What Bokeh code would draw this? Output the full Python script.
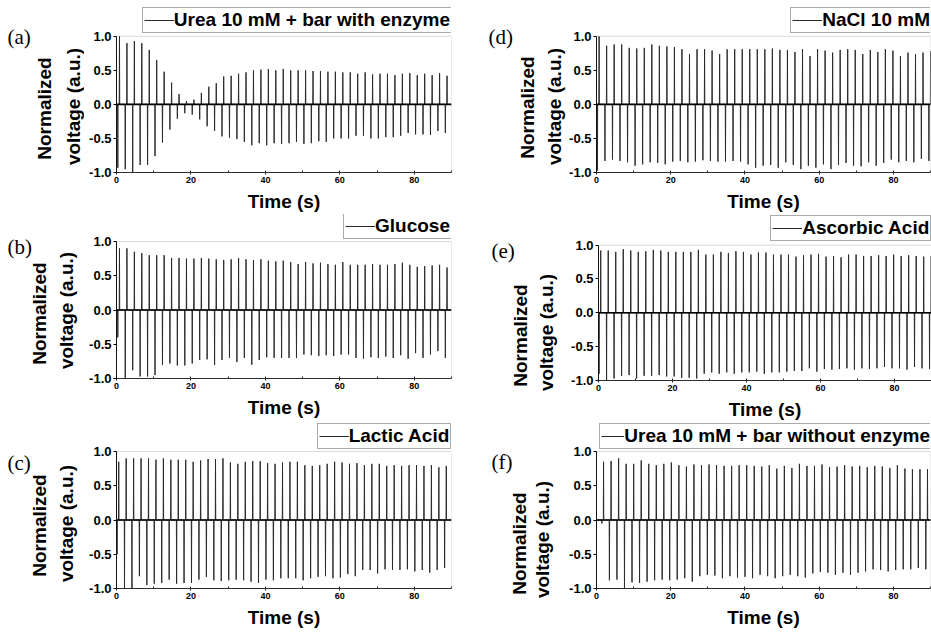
import math
from bokeh.plotting import figure
from bokeh.layouts import column, row
from bokeh.models import (Range1d, FixedTicker, PrintfTickFormatter, Span, Label,
                          Legend, LegendItem, ColumnDataSource, BoxAnnotation)
from bokeh.core.properties import value
from bokeh.embed import file_html
from bokeh.resources import INLINE

# ---------------- data ----------------
time_limits = [0, 90]
volt_limits = [-1.0, 1.0]
x_major_ticks = [0, 20, 40, 60, 80]
x_minor_ticks = [10, 30, 50, 70, 90]
y_major_ticks = [-1.0, -0.5, 0.0, 0.5, 1.0]

panel_letters = ["a", "b", "c", "d", "e", "f"]
panel_names = ["Urea 10 mM + bar with enzyme", "Glucose", "Lactic Acid",
               "NaCl 10 mM", "Ascorbic Acid", "Urea 10 mM + bar without enzyme"]
x_title = "Time (s)"
y_title_lines = ["Normalized", "voltage (a.u.)"]

# time of first positive spike (s) and spike period (s)
first_spike = [0.8, 0.8, 0.6, 0.7, 0.6, 1.9]
spike_period = [2.0, 2.0, 2.0, 2.03, 2.03, 2.03]
neg_lead = 0.45  # negative spike precedes positive one (s)

pos_a = [1.0, 0.9, 0.93, 0.9, 0.8, 0.65, 0.48, 0.32, 0.15, 0.05, 0.07, 0.17, 0.26, 0.31, 0.41,
         0.42, 0.45, 0.47, 0.5, 0.51, 0.52, 0.5, 0.52, 0.5, 0.5, 0.5, 0.49, 0.49, 0.48, 0.48,
         0.47, 0.47, 0.45, 0.47, 0.44, 0.45, 0.45, 0.43, 0.45, 0.46, 0.43, 0.45, 0.43, 0.46, 0.42]
neg_a = [-0.93, -0.95, -0.99, -0.89, -0.89, -0.76, -0.56, -0.37, -0.21, -0.13, -0.15, -0.22, -0.32,
         -0.39, -0.47, -0.49, -0.51, -0.55, -0.6, -0.57, -0.6, -0.57, -0.58, -0.57, -0.55, -0.58,
         -0.57, -0.54, -0.55, -0.5, -0.5, -0.5, -0.46, -0.46, -0.5, -0.5, -0.48, -0.48, -0.46,
         -0.42, -0.44, -0.44, -0.45, -0.39, -0.42]

pos_b = [0.9, 0.9, 0.85, 0.83, 0.8, 0.8, 0.8, 0.76, 0.76, 0.75, 0.75, 0.76, 0.75, 0.74, 0.73,
         0.74, 0.76, 0.74, 0.73, 0.74, 0.72, 0.71, 0.72, 0.7, 0.67, 0.7, 0.68, 0.69, 0.67, 0.66,
         0.7, 0.66, 0.66, 0.66, 0.67, 0.66, 0.66, 0.67, 0.69, 0.66, 0.63, 0.64, 0.65, 0.66, 0.62]
neg_b = [-0.4, -1.0, -0.88, -0.97, -0.97, -0.95, -0.8, -0.78, -0.81, -0.81, -0.78, -0.73, -0.72,
         -0.8, -0.73, -0.7, -0.76, -0.7, -0.8, -0.73, -0.69, -0.7, -0.7, -0.7, -0.7, -0.65, -0.66,
         -0.67, -0.66, -0.67, -0.65, -0.65, -0.7, -0.71, -0.69, -0.7, -0.68, -0.7, -0.66, -0.71,
         -0.63, -0.7, -0.65, -0.6, -0.7]

pos_c = [0.85, 0.9, 0.9, 0.9, 0.9, 0.88, 0.9, 0.88, 0.88, 0.88, 0.85, 0.87, 0.89, 0.89, 0.9,
         0.84, 0.82, 0.85, 0.86, 0.86, 0.83, 0.82, 0.84, 0.85, 0.85, 0.8, 0.79, 0.8, 0.82, 0.85,
         0.84, 0.82, 0.83, 0.8, 0.82, 0.82, 0.79, 0.8, 0.79, 0.8, 0.8, 0.79, 0.8, 0.77, 0.79]
neg_c = [-0.5, -1.0, -1.0, -0.82, -0.95, -0.93, -0.92, -0.87, -0.93, -0.92, -0.92, -0.87, -0.83,
         -0.88, -0.89, -0.88, -0.87, -0.88, -0.9, -0.92, -0.87, -0.88, -0.85, -0.85, -0.85, -0.88,
         -0.85, -0.83, -0.82, -0.85, -0.84, -0.79, -0.82, -0.73, -0.73, -0.78, -0.72, -0.73,
         -0.73, -0.72, -0.75, -0.73, -0.77, -0.73, -0.7]

pos_d = [1.0, 0.86, 0.88, 0.88, 0.83, 0.82, 0.83, 0.88, 0.86, 0.85, 0.84, 0.81, 0.74, 0.81, 0.81,
         0.79, 0.74, 0.81, 0.81, 0.81, 0.81, 0.81, 0.81, 0.82, 0.8, 0.8, 0.77, 0.81, 0.71, 0.81,
         0.79, 0.76, 0.8, 0.81, 0.8, 0.74, 0.8, 0.77, 0.81, 0.79, 0.71, 0.76, 0.74, 0.76, 0.78]
neg_d = [-0.97, -0.83, -0.81, -0.83, -0.85, -0.9, -0.88, -0.85, -0.86, -0.88, -0.84, -0.83, -0.85,
         -0.84, -0.82, -0.83, -0.84, -0.84, -0.83, -0.84, -0.88, -0.93, -0.9, -0.89, -0.93, -0.85,
         -0.89, -0.95, -0.9, -0.93, -0.88, -0.95, -0.89, -0.86, -0.9, -0.91, -0.85, -0.9, -0.86,
         -0.81, -0.85, -0.83, -0.85, -0.8, -0.83]

pos_e = [0.92, 0.92, 0.9, 0.94, 0.92, 0.9, 0.91, 0.93, 0.92, 0.9, 0.9, 0.9, 0.9, 0.93, 0.86,
         0.86, 0.9, 0.88, 0.91, 0.9, 0.86, 0.89, 0.89, 0.86, 0.86, 0.86, 0.83, 0.85, 0.86, 0.87,
         0.83, 0.84, 0.82, 0.86, 0.86, 0.84, 0.84, 0.85, 0.84, 0.86, 0.84, 0.85, 0.84, 0.83, 0.84]
neg_e = [-0.9, -1.0, -0.97, -0.93, -0.92, -0.97, -0.93, -0.93, -0.92, -0.94, -0.94, -0.96, -0.96,
         -0.97, -0.9, -0.88, -0.9, -0.88, -0.9, -0.88, -0.88, -0.87, -0.9, -0.88, -0.88, -0.87,
         -0.86, -0.86, -0.82, -0.87, -0.83, -0.84, -0.83, -0.82, -0.84, -0.82, -0.83, -0.82,
         -0.8, -0.82, -0.82, -0.84, -0.8, -0.82, -0.83]

pos_f = [0.85, 0.86, 0.9, 0.82, 0.82, 0.87, 0.82, 0.8, 0.82, 0.84, 0.8, 0.78, 0.81, 0.8, 0.81,
         0.8, 0.79, 0.79, 0.8, 0.8, 0.79, 0.78, 0.8, 0.75, 0.79, 0.76, 0.82, 0.79, 0.79, 0.81,
         0.77, 0.78, 0.8, 0.78, 0.79, 0.77, 0.79, 0.78, 0.76, 0.8, 0.75, 0.74, 0.74, 0.74, 0.78]
neg_f = [-0.05, -0.88, -0.87, -1.0, -0.91, -0.92, -0.9, -0.88, -0.87, -0.88, -0.87, -0.85, -0.9,
         -0.82, -0.8, -0.81, -0.85, -0.82, -0.84, -0.83, -0.85, -0.8, -0.82, -0.85, -0.82, -0.8,
         -0.82, -0.84, -0.78, -0.76, -0.77, -0.8, -0.77, -0.8, -0.77, -0.75, -0.72, -0.73, -0.75,
         -0.73, -0.72, -0.72, -0.7, -0.72, -0.6]

pos_peaks = [pos_a, pos_b, pos_c, pos_d, pos_e, pos_f]
neg_peaks = [neg_a, neg_b, neg_c, neg_d, neg_e, neg_f]

# ---------------- layout / style ----------------
FONT = "Liberation Sans"
LEGEND_PX = 19
PAD = 1
# per panel: strip width, figure width, border left, border right, row height,
#            pixel row of +1.0, pixel row of -1.0 (inside the row)
geometry = [
    (84, 376, 32, 9, 214, 36, 173),
    (84, 376, 32, 9, 208, 27, 164),
    (84, 376, 32, 9, 211, 29, 166),
    (106, 365, 29, 1, 214, 36, 173),
    (106, 365, 32, 0, 208, 31, 168),
    (106, 365, 29, 1, 211, 29, 166),
]
# strip texts: letter (x, top), y-title line centres (x1, x2) and (y1, y2), in strip pixels
strip_text = [
    (7, 24, 44, 72.5, 108, 106),
    (7, 20, 39, 65.5, 99, 96),
    (7, 28, 39, 65.5, 103, 101),
    (28, 24, 66.5, 94, 107, 106),
    (31, 24, 60, 86, 121, 118),
    (31, 27, 58.5, 81.5, 121, 117),
]

# Arial/Liberation Sans Bold advance widths (1/1000 em) to right-align the legend boxes
_bold_w = {" ": 278, "+": 584, "0": 556, "1": 556, "A": 722, "C": 722, "G": 778, "L": 611,
           "M": 833, "N": 722, "U": 722, "a": 556, "b": 611, "c": 556, "d": 611, "e": 556,
           "h": 611, "i": 278, "l": 278, "m": 889, "n": 611, "o": 611, "r": 389, "s": 556,
           "t": 333, "u": 611, "w": 778, "y": 556, "z": 500}


def text_width(s, px):
    return sum(_bold_w.get(ch, 600) for ch in s) * px / 1000.0


def no_align(fig):
    try:
        fig.frame_align = False
    except Exception:
        pass


def build_trace(t0, period, pos, neg):
    xs, ys = [time_limits[0]], [0.0]
    half = 0.06
    for i, (pv, nv) in enumerate(zip(pos, neg)):
        tp = t0 + i * period
        tn = tp - neg_lead
        xs += [tn - half, tn, tn + half, tp - half, tp, tp + half]
        ys += [0.0, nv, 0.0, 0.0, pv, 0.0]
    xs.append(time_limits[1])
    ys.append(0.0)
    return ColumnDataSource(data=dict(t=xs, v=ys))


def make_strip(k):
    sw, fw, bl, br, h, t_px, b_px = geometry[k]
    lx, ltop, cx1, cx2, cy1, cy2 = strip_text[k]
    # pixel-like ranges: x to the right, y downward
    q = figure(width=sw, height=h, output_backend="svg", toolbar_location=None, title=None,
               x_axis_location=None, y_axis_location=None,
               x_range=Range1d(0, sw), y_range=Range1d(h, 0),
               min_border_left=0, min_border_right=0, min_border_top=0, min_border_bottom=0)
    no_align(q)
    q.outline_line_color = None
    q.background_fill_color = "white"
    q.border_fill_color = "white"
    q.grid.visible = False
    q.add_layout(Label(x=lx, y=ltop, text="(" + panel_letters[k] + ")",
                       text_font="Liberation Serif", text_font_size="21px",
                       text_color="black", text_align="left", text_baseline="top"))
    for cx, cy, txt in ((cx1, cy1, y_title_lines[0]), (cx2, cy2, y_title_lines[1])):
        q.add_layout(Label(x=cx, y=cy, text=txt, angle=math.pi / 2,
                           text_font=FONT, text_font_style="bold", text_font_size="19px",
                           text_color="black", text_align="center",
                           text_baseline="middle"))
    return q


def make_panel(k):
    sw, fw, bl, br, h, t_px, b_px = geometry[k]
    unit_px = (b_px - t_px) / 2.0
    y_top = volt_limits[1] + t_px / unit_px   # frame extends above +1.0 to hold the legend
    p = figure(width=fw, height=h, output_backend="svg", toolbar_location=None, title=None,
               x_range=Range1d(*time_limits), y_range=Range1d(volt_limits[0], y_top),
               min_border_left=bl, min_border_right=br, min_border_top=0,
               min_border_bottom=h - b_px)
    no_align(p)
    p.background_fill_color = "white"
    p.border_fill_color = "white"
    p.outline_line_color = None
    p.xgrid.visible = False
    p.ygrid.visible = False

    # plot box (grey outline) around the data area
    p.add_layout(BoxAnnotation(left=time_limits[0], right=time_limits[1],
                               bottom=volt_limits[0], top=volt_limits[1],
                               fill_color=None, fill_alpha=0,
                               line_color="#808080", line_width=1))

    src = build_trace(first_spike[k], spike_period[k], pos_peaks[k], neg_peaks[k])
    r = p.line("t", "v", source=src, line_color="#2b2b2b", line_width=1)
    p.add_layout(Span(location=0, dimension="width", line_color="black", line_width=1.6))

    xa = p.xaxis[0]
    xa.ticker = FixedTicker(ticks=x_major_ticks, minor_ticks=x_minor_ticks)
    xa.axis_label = x_title
    xa.axis_label_text_font = FONT
    xa.axis_label_text_font_style = "bold"
    xa.axis_label_text_font_size = "19px"
    xa.axis_label_text_color = "black"
    xa.axis_label_standoff = 5
    xa.major_label_text_font = FONT
    xa.major_label_text_font_style = "bold"
    xa.major_label_text_font_size = "9px"
    xa.major_label_text_color = "black"
    xa.major_label_standoff = 2
    xa.major_tick_in = 2
    xa.major_tick_out = 2
    xa.minor_tick_in = 2
    xa.minor_tick_out = 0
    xa.axis_line_color = "#222222"
    xa.major_tick_line_color = "#222222"
    xa.minor_tick_line_color = "#222222"

    ya = p.yaxis[0]
    ya.bounds = tuple(volt_limits)
    ya.ticker = FixedTicker(ticks=y_major_ticks, minor_ticks=[])
    ya.formatter = PrintfTickFormatter(format="%.1f")
    ya.major_label_text_font = FONT
    ya.major_label_text_font_style = "bold"
    ya.major_label_text_font_size = "13px"
    ya.major_label_text_color = "black"
    ya.major_label_standoff = 2
    ya.major_tick_in = 0
    ya.major_tick_out = 3
    ya.minor_tick_line_color = None
    ya.axis_line_color = "black"
    ya.major_tick_line_color = "black"

    frame_w = fw - bl - br
    tw = text_width(panel_names[k], LEGEND_PX)
    glyph_w = int(min(30, frame_w - 4 - tw - 2 * PAD))
    box_w = 2 * PAD + glyph_w + tw
    legend = Legend(items=[LegendItem(label=value(panel_names[k]), renderers=[r])],
                    location=(frame_w - 1 - box_w, (b_px - t_px) + 2), orientation="vertical",
                    label_text_font=FONT, label_text_font_style="bold",
                    label_text_font_size="%dpx" % LEGEND_PX, label_text_color="black",
                    label_standoff=0, glyph_width=glyph_w, glyph_height=18, label_height=18,
                    padding=PAD, margin=0, spacing=0,
                    border_line_color="#555555", border_line_width=1,
                    background_fill_color="white", background_fill_alpha=1.0)
    p.add_layout(legend, "center")
    return p


panels = [make_panel(k) for k in range(6)]
strips = [make_strip(k) for k in range(6)]
layout = column(row(strips[0], panels[0], strips[3], panels[3]),
                row(strips[1], panels[1], strips[4], panels[4]),
                row(strips[2], panels[2], strips[5], panels[5]))

html = file_html(layout, INLINE)
html = html.replace("<head>", "<head><style>html,body{margin:0;padding:0;}</style>", 1)
open("out.html", "w").write(html)
